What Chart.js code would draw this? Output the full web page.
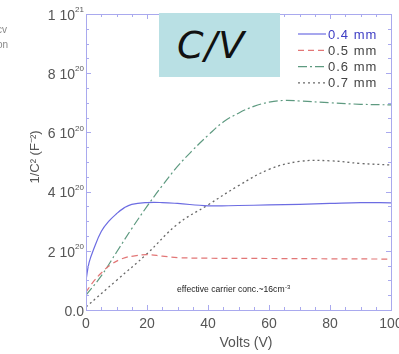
<!DOCTYPE html>
<html>
<head>
<meta charset="utf-8">
<script src="https://cdn.jsdelivr.net/npm/chart.js@4/dist/chart.umd.min.js"></script>
<style>
body { margin: 0; background: #fff; overflow: hidden; }
#wrap { position: relative; width: 399px; height: 354px; }
#title { position: absolute; left: 159px; top: 13px; width: 121px; height: 64px; background: #b9e0e4; box-sizing: border-box;
  padding-left: 18px; font: italic 38px "DejaVu Sans", sans-serif; letter-spacing: 1px; color: #111;
  display: flex; align-items: center; justify-content: flex-start; }
#edge { position: absolute; left: -3px; top: 22px; font: 10px "Liberation Sans", sans-serif; color: #888; line-height: 15px; }
</style>
</head>
<body>
<div id="wrap">
  <canvas id="cv" width="399" height="354"></canvas>
  <div id="edge">cv<br>on</div>
  <div id="title">C/V</div>
</div>
<script>
"use strict";
// values are 1/C^2 in units of 1e20 F^-2
const volts04 = [0, 1, 2.5, 5, 7.5, 10, 12.5, 15, 20, 25, 30, 40, 50, 60, 70, 80, 90, 100];
const c04 = [1.0, 1.6, 2.05, 2.65, 3.0, 3.25, 3.45, 3.57, 3.63, 3.63, 3.6, 3.52, 3.53, 3.55, 3.57, 3.6, 3.63, 3.62];
const volts05 = [0, 2, 5, 8, 12, 16, 20, 25, 30, 40, 60, 80, 100];
const c05 = [0.6, 0.9, 1.25, 1.52, 1.74, 1.83, 1.87, 1.82, 1.77, 1.75, 1.74, 1.73, 1.72];
const volts06 = [0, 5, 10, 15, 20, 25, 30, 35, 40, 45, 50, 55, 60, 65, 70, 80, 90, 100];
const c06 = [0.5, 1.15, 1.95, 2.75, 3.5, 4.2, 4.85, 5.4, 5.9, 6.35, 6.65, 6.88, 7.02, 7.08, 7.06, 7.0, 6.95, 6.93];
const volts07 = [0, 10, 20, 30, 40, 50, 60, 70, 80, 90, 100];
const c07 = [0.1, 1.0, 1.9, 2.9, 3.55, 4.2, 4.75, 5.02, 5.04, 4.95, 4.9];
const seriesNames = ['0.4 mm', '0.5 mm', '0.6 mm', '0.7 mm'];
const xTicks = [0, 20, 40, 60, 80, 100];
const yTicks = [0, 2, 4, 6, 8, 10];

const pts = (xs, ys) => xs.map((x, i) => ({ x: x, y: ys[i] }));
const frameColor = '#a9a9ee';
const textColor = '#555';

const framePlugin = {
    id: 'frame',
    afterDraw(chart) {
        const ctx = chart.ctx;
        const a = chart.chartArea;
        const xs = chart.scales.x, ys = chart.scales.y;
        ctx.save();
        ctx.strokeStyle = frameColor;
        ctx.lineWidth = 1;
        ctx.strokeRect(a.left + 0.5, a.top + 0.5, a.right - a.left, a.bottom - a.top);
        // inward minor/major ticks
        ctx.beginPath();
        for (let v = 0; v <= 100; v += 5) {
            let px = Math.round(xs.getPixelForValue(v)) + 0.5;
            let len = v % 20 === 0 ? 5 : 3;
            ctx.moveTo(px, a.bottom); ctx.lineTo(px, a.bottom - len);
            ctx.moveTo(px, a.top); ctx.lineTo(px, a.top + len);
        }
        for (let v = 0; v <= 10; v += 0.5) {
            let py = Math.round(ys.getPixelForValue(v)) + 0.5;
            let len = v % 2 === 0 ? 5 : 3;
            ctx.moveTo(a.left, py); ctx.lineTo(a.left + len, py);
            ctx.moveTo(a.right, py); ctx.lineTo(a.right - len, py);
        }
        ctx.stroke();

        // x tick labels and title
        ctx.fillStyle = textColor;
        ctx.textBaseline = 'middle';
        ctx.textAlign = 'center';
        ctx.font = '14px "Liberation Sans"';
        xTicks.forEach(v => ctx.fillText(String(v), xs.getPixelForValue(v), a.bottom + 14));
        ctx.fillText('Volts (V)', 246, 343);

        // y tick labels with superscript exponents
        ctx.textAlign = 'right';
        yTicks.forEach(v => {
            let py = ys.getPixelForValue(v) + 2;
            let right = a.left - 2;
            if (v === 0) {
                ctx.font = '14px "Liberation Sans"';
                ctx.fillText('0.0', right, py);
                return;
            }
            let base = v === 10 ? '1 10' : v + ' 10';
            let exp = v === 10 ? '21' : '20';
            ctx.font = '8px "Liberation Sans"';
            let ew = ctx.measureText(exp).width;
            ctx.fillText(exp, right, py - 6);
            ctx.font = '14px "Liberation Sans"';
            ctx.fillText(base, right - ew, py);
        });

        // y axis title
        ctx.save();
        ctx.translate(35, 157);
        ctx.rotate(-Math.PI / 2);
        ctx.textAlign = 'center';
        ctx.font = '13px "Liberation Sans"';
        ctx.fillText('1/C\u00B2 (F\u207B\u00B2)', 0, 0);
        ctx.restore();

        // legend
        ctx.textAlign = 'left';
        ctx.font = '13px "Liberation Sans"';
        ctx.letterSpacing = '1px';
        chart.data.datasets.forEach((ds, i) => {
            let y = 34 + i * 16.3;
            ctx.strokeStyle = ds.borderColor;
            ctx.lineWidth = 1.2;
            ctx.setLineDash(ds.borderDash || []);
            ctx.beginPath();
            ctx.moveTo(298, y); ctx.lineTo(326, y);
            ctx.stroke();
            ctx.setLineDash([]);
            ctx.fillStyle = i === 0 ? '#3d3dc4' : '#444';
            ctx.fillText(ds.label, 328, y + 1);
        });
        ctx.letterSpacing = '0px';

        // annotation
        ctx.fillStyle = '#222';
        ctx.font = '8.6px "Liberation Sans"';
        let note = 'effective carrier conc.~16cm';
        ctx.fillText(note, 177, 290);
        let nw = ctx.measureText(note).width;
        ctx.font = '6px "Liberation Sans"';
        ctx.fillText('-3', 177 + nw + 0.5, 287);
        ctx.restore();
    }
};

const ctx = document.getElementById('cv').getContext('2d');
new Chart(ctx, {
    type: 'line',
    data: {
        datasets: [
            { label: seriesNames[0], data: pts(volts04, c04), borderColor: '#6c6ce2', borderWidth: 1.2 },
            { label: seriesNames[1], data: pts(volts05, c05), borderColor: '#e27676', borderWidth: 1.2, borderDash: [6, 4] },
            { label: seriesNames[2], data: pts(volts06, c06), borderColor: '#5e9a80', borderWidth: 1.2, borderDash: [9, 3, 2, 3] },
            { label: seriesNames[3], data: pts(volts07, c07), borderColor: '#6a6a6a', borderWidth: 1.3, borderDash: [2, 3] }
        ]
    },
    options: {
        responsive: false,
        animation: false,
        events: [],
        layout: { padding: { left: 86, right: 8, top: 14, bottom: 44 } },
        elements: { point: { radius: 0 }, line: { tension: 0.4, fill: false } },
        plugins: { legend: { display: false }, tooltip: { enabled: false } },
        scales: {
            x: { type: 'linear', min: 0, max: 100, display: false },
            y: { type: 'linear', min: 0, max: 10, display: false }
        }
    },
    plugins: [framePlugin]
});
</script>
</body>
</html>
